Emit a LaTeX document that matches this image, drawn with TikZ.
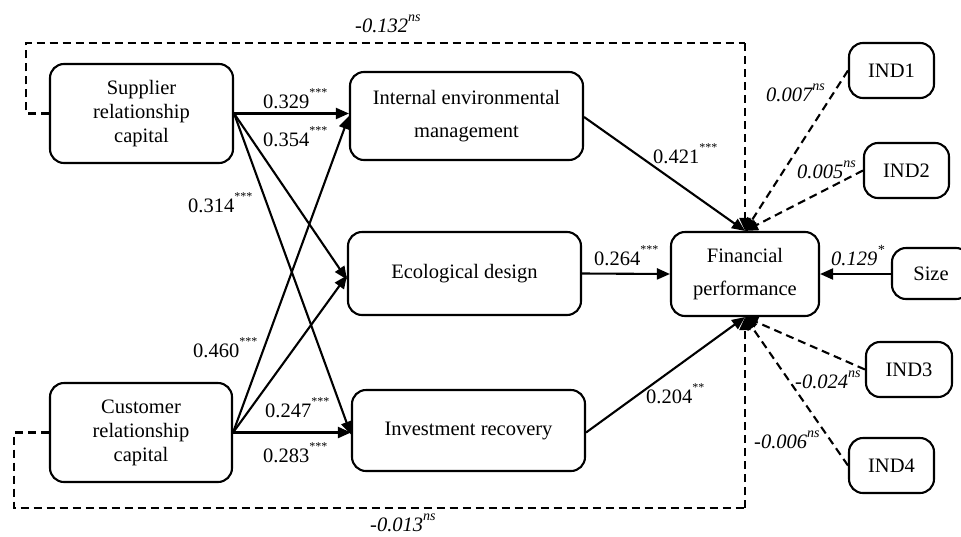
\documentclass[tikz,border=0pt]{standalone}
\usepackage{fontspec}
\setmainfont{Liberation Serif}
\usetikzlibrary{arrows.meta}
\newcommand\stars[1]{\raisebox{12pt}{\fontsize{12}{12}\selectfont #1}}
\newcommand\nsup{\raisebox{11pt}{\fontsize{14}{14}\selectfont\itshape ns}}
\begin{document}
\begin{tikzpicture}[x=1pt,y=-1pt,
  box/.style={draw, line width=2.1pt, rounded corners=14pt, align=center, inner sep=0pt,
    font=\fontsize{20.5}{24}\selectfont},
  wide/.style={font=\fontsize{20.5}{33}\selectfont},
  lab/.style={anchor=base west, inner sep=0pt, font=\fontsize{20.5}{24}\selectfont},
  ilab/.style={lab, font=\fontsize{20.5}{24}\selectfont\itshape},
  arr/.style={line width=2.1pt, -{Triangle[length=13pt,width=11pt]}},
  darr/.style={arr, dash pattern=on 8pt off 5pt},
  dline/.style={line width=2.1pt, dash pattern=on 8pt off 5pt}]
\clip (0,0) rectangle (961,536);
% boxes
\node[box, minimum width=183pt, minimum height=99pt] (S) at (141.5,113.5) {Supplier\\relationship\\capital};
\node[box, minimum width=182pt, minimum height=99pt] (C) at (141,432.5) {Customer\\relationship\\capital};
\node[box, wide, minimum width=233pt, minimum height=88pt] (IEM) at (466.5,116) {Internal environmental\\management};
\node[box, minimum width=233pt, minimum height=83pt] (ECO) at (464.5,273.5) {Ecological design};
\node[box, minimum width=233pt, minimum height=81pt] (IR) at (468.5,430.5) {Investment recovery};
\node[box, wide, minimum width=148pt, minimum height=84pt] (FP) at (745,274) {Financial\\performance};
\node[box, minimum width=85pt, minimum height=55pt] (I1) at (891.5,70.5) {IND1};
\node[box, minimum width=85pt, minimum height=55pt] (I2) at (906.5,170.5) {IND2};
\node[box, minimum width=78pt, minimum height=51pt] (SZ) at (931,273.5) {Size};
\node[box, minimum width=86pt, minimum height=55pt] (I3) at (909,369.5) {IND3};
\node[box, minimum width=85pt, minimum height=55pt] (I4) at (891.5,465.5) {IND4};
% helper coordinates
\coordinate (tl) at (26,43);
\coordinate (tr) at (745,43);
\coordinate (bl) at (14,508);
\coordinate (br) at (745,508);
% solid paths
\draw[arr] (S.east) -- (S.east -| IEM.west);
\draw[arr] (S.east) -- ([yshift=-6pt]ECO.west);
\draw[arr] (S.east) -- ([yshift=-4pt]IR.west);
\draw[arr] (C.east) -- (IEM.west);
\draw[arr] (C.east) -- ([yshift=-2pt]ECO.west);
\draw[arr] (C.east) -- (C.east -| IR.west);
\draw[arr] ([yshift=-1pt]IEM.east) -- (FP.north);
\draw[arr] (ECO.east) -- (FP.west);
\draw[arr] ([yshift=-2pt]IR.east) -- (FP.south);
\draw[arr] (SZ.west |- FP.east) -- (FP.east);
% dashed paths
\draw[dline] (S.west) -- (S.west -| tl) -- (tl) -- (tr);
\draw[darr] (tr) -- (FP.north);
\draw[dline] (C.west) -- (C.west -| bl) -- (bl) -- (br);
\draw[darr] (br) -- (FP.south);
\draw[darr] (I1.west) -- (FP.north);
\draw[darr] (I2.west) -- (FP.north);
\draw[darr] (I3.west) -- (FP.south);
\draw[darr] (I4.west) -- (FP.south);
% labels
\node[ilab] (l1) at (355,32) {-0.132\nsup};
\node[lab] (l2) at (263,108) {0.329\stars{***}};
\node[lab] (l3) at (263,146) {0.354\stars{***}};
\node[lab] (l4) at (188,212) {0.314\stars{***}};
\node[lab] (l5) at (193,357) {0.460\stars{***}};
\node[lab] (l6) at (265,417) {0.247\stars{***}};
\node[lab] (l7) at (263,462) {0.283\stars{***}};
\node[lab] (l8) at (653,163) {0.421\stars{***}};
\node[lab] (l9) at (594,265) {0.264\stars{***}};
\node[lab] (l10) at (646,403) {0.204\stars{**}};
\node[ilab] (l11) at (766,101) {0.007\nsup};
\node[ilab] (l12) at (797,178) {0.005\nsup};
\node[ilab] (l13) at (831,265) {0.129\raisebox{11pt}{\fontsize{14}{14}\selectfont *}};
\node[ilab] (l14) at (795,388) {-0.024\nsup};
\node[ilab] (l15) at (754,448) {-0.006\nsup};
\node[ilab] (l16) at (370,531) {-0.013\nsup};
\end{tikzpicture}
\end{document}
